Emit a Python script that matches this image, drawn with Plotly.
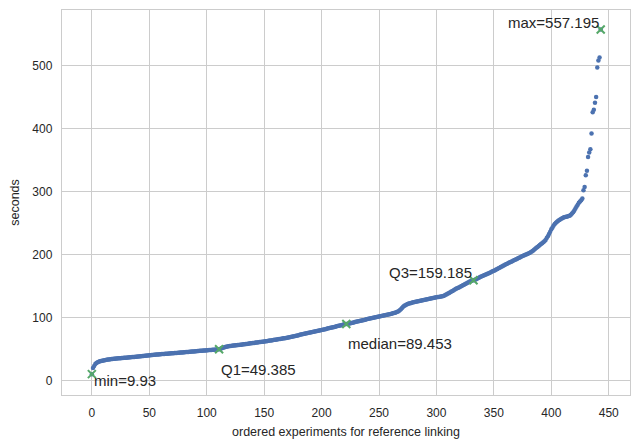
import plotly.graph_objects as go

# sorted run times (seconds) of the ordered experiments
seconds = [
    9.93, 19.5, 23.0, 26.0, 27.5, 28.8, 29.7, 30.4, 30.9, 31.3,
    31.6, 32.0, 32.4, 32.7, 33.0, 33.3, 33.5, 33.8, 34.0, 34.2,
    34.4, 34.6, 34.8, 35.0, 35.2, 35.3, 35.5, 35.6, 35.8, 35.9,
    36.0, 36.2, 36.4, 36.6, 36.8, 37.0, 37.1, 37.3, 37.5, 37.7,
    37.9, 38.1, 38.3, 38.5, 38.7, 38.9, 39.1, 39.3, 39.5, 39.7,
    39.9, 40.1, 40.3, 40.5, 40.6, 40.8, 41.0, 41.1, 41.3, 41.5,
    41.6, 41.8, 41.9, 42.1, 42.2, 42.4, 42.5, 42.7, 42.8, 43.0,
    43.1, 43.3, 43.4, 43.6, 43.7, 43.9, 44.0, 44.2, 44.3, 44.5,
    44.6, 44.8, 44.9, 45.1, 45.2, 45.4, 45.5, 45.7, 45.8, 46.0,
    46.2, 46.4, 46.5, 46.7, 46.9, 47.0, 47.2, 47.3, 47.5, 47.6,
    47.8, 47.9, 48.1, 48.2, 48.4, 48.5, 48.7, 48.8, 49.0, 49.2,
    49.38, 49.39, 50.2, 51.0, 51.8, 52.4, 53.0, 53.5, 53.9, 54.2,
    54.5, 54.8, 55.0, 55.3, 55.5, 55.7, 55.9, 56.1, 56.3, 56.5,
    56.8, 57.0, 57.3, 57.5, 57.8, 58.0, 58.3, 58.5, 58.8, 59.0,
    59.3, 59.5, 59.8, 60.0, 60.3, 60.5, 60.8, 61.0, 61.3, 61.5,
    61.8, 62.0, 62.3, 62.6, 62.9, 63.2, 63.5, 63.8, 64.1, 64.4,
    64.7, 65.0, 65.3, 65.6, 65.9, 66.2, 66.5, 66.8, 67.1, 67.5,
    67.9, 68.3, 68.7, 69.1, 69.5, 69.9, 70.3, 70.7, 71.1, 71.5,
    71.9, 72.3, 72.7, 73.1, 73.5, 73.9, 74.3, 74.7, 75.1, 75.5,
    75.9, 76.4, 76.8, 77.2, 77.6, 78.0, 78.4, 78.8, 79.2, 79.6,
    80.0, 80.5, 80.9, 81.4, 81.8, 82.3, 82.7, 83.2, 83.6, 84.1,
    84.5, 85.0, 85.4, 85.9, 86.3, 86.8, 87.2, 87.7, 88.1, 88.6,
    89.0, 89.4, 89.506, 89.9, 90.3, 90.8, 91.2, 91.7, 92.1, 92.6,
    93.0, 93.4, 93.9, 94.3, 94.8, 95.2, 95.6, 96.1, 96.5, 97.0,
    97.4, 97.8, 98.2, 98.6, 99.0, 99.4, 99.8, 100.2, 100.6, 101.0,
    101.4, 101.8, 102.2, 102.6, 103.0, 103.4, 103.8, 104.2, 104.6, 105.0,
    105.5, 106.0, 106.5, 107.0, 107.6, 108.3, 109.0, 110.0, 111.5, 113.0,
    115.0, 117.0, 118.5, 119.5, 120.5, 121.3, 122.0, 122.6, 123.1, 123.6,
    124.0, 124.4, 124.8, 125.2, 125.6, 126.0, 126.4, 126.8, 127.2, 127.6,
    128.0, 128.4, 128.8, 129.2, 129.6, 130.0, 130.4, 130.8, 131.2, 131.6,
    132.0, 132.3, 132.6, 132.9, 133.2, 133.6, 134.2, 135.0, 136.0, 137.0,
    138.0, 139.0, 140.0, 141.0, 142.0, 143.0, 144.2, 145.4, 146.3, 147.2,
    148.1, 149.0, 150.0, 151.0, 152.0, 153.0, 154.0, 155.0, 156.0, 157.0,
    157.8, 158.6, 159.1, 159.44, 160.2, 161.2, 162.2, 163.2, 164.1, 165.0,
    165.8, 166.6, 167.4, 168.2, 169.0, 169.8, 170.6, 171.5, 172.4, 173.3,
    174.2, 175.1, 176.0, 177.0, 178.0, 179.0, 180.0, 181.0, 182.0, 183.0,
    184.0, 184.9, 185.8, 186.7, 187.6, 188.5, 189.4, 190.3, 191.2, 192.1,
    193.0, 193.9, 194.8, 195.7, 196.6, 197.5, 198.3, 199.1, 199.9, 200.7,
    201.5, 202.5, 203.5, 204.6, 206.0, 207.5, 209.0, 210.5, 212.0, 213.5,
    215.0, 216.5, 218.0, 219.5, 221.0, 223.0, 226.0, 229.0, 232.5, 236.0,
    240.0, 243.0, 246.0, 248.5, 250.5, 252.0, 253.5, 254.8, 256.0, 257.0,
    258.0, 259.0, 259.5, 260.0, 260.5, 261.0, 261.5, 263.0, 265.0, 267.0,
    270.0, 273.0, 276.0, 279.0, 282.0, 284.0, 286.0, 289.0, 302.0, 307.0,
    326.0, 333.0, 355.0, 362.0, 367.0, 392.0, 426.0, 430.0, 441.0, 450.0,
    497.0, 508.0, 513.0, 557.195,
]
index = list(range(len(seconds)))

# summary statistics (position in ordered list, value, label)
stat_names = ["min", "Q1", "median", "Q3", "max"]
stat_pos = [0, 110.75, 221.5, 332.25, 443]
stat_vals = [9.93, 49.385, 89.453, 159.185, 557.195]

x_ticks = [0, 50, 100, 150, 200, 250, 300, 350, 400, 450]
y_ticks = [0, 100, 200, 300, 400, 500]

BLUE = "#4C72B0"
GREEN = "#55A868"
TEXT = "#262626"
GRID = "#CCCCCC"
FONT = "Liberation Sans, Arial, sans-serif"

fig = go.Figure()
fig.add_trace(go.Scatter(
    x=index, y=seconds, mode="markers",
    marker=dict(color=BLUE, size=4.5, line=dict(width=0)),
    showlegend=False, hoverinfo="skip",
))
fig.add_trace(go.Scatter(
    x=stat_pos, y=stat_vals, mode="markers",
    marker=dict(symbol="x-thin", color=GREEN, size=8,
                line=dict(color=GREEN, width=2)),
    showlegend=False, hoverinfo="skip",
))

anchors = {
    "min": ("left", -6),
    "Q1": ("left", -20),
    "median": ("left", -19.5),
    "Q3": ("right", 8),
    "max": ("right", 7),
}
for name, p, v in zip(stat_names, stat_pos, stat_vals):
    xa, ys = anchors[name]
    fig.add_annotation(
        x=p, y=v, text=f"{name}={v:g}", showarrow=False,
        xanchor=xa, yanchor="middle", yshift=ys, xshift=0,
        font=dict(family=FONT, size=15, color=TEXT),
    )

axis_common = dict(
    showgrid=True, gridcolor=GRID, gridwidth=1,
    showline=True, linecolor=GRID, linewidth=1.25, mirror=True,
    zeroline=False, ticks="outside", ticklen=6, tickcolor="rgba(0,0,0,0)",
    tickfont=dict(family=FONT, size=12, color=TEXT),
)
fig.update_xaxes(
    range=[-26, 468.5], tickvals=x_ticks,
    title=dict(text="ordered experiments for reference linking",
               font=dict(family=FONT, size=12.5, color=TEXT), standoff=8),
    **axis_common,
)
fig.update_yaxes(
    range=[-23.2, 588.3], tickvals=y_ticks,
    title=dict(text="seconds",
               font=dict(family=FONT, size=12.5, color=TEXT), standoff=10),
    **axis_common,
)
fig.update_layout(
    width=634, height=439,
    margin=dict(l=62, r=3, t=10, b=41, pad=0),
    plot_bgcolor="white", paper_bgcolor="white",
)
fig.write_html(
    "out.html",
    config={"displayModeBar": False, "staticPlot": True},
    post_script="document.body.style.margin='0';document.body.style.overflow='hidden';",
)
